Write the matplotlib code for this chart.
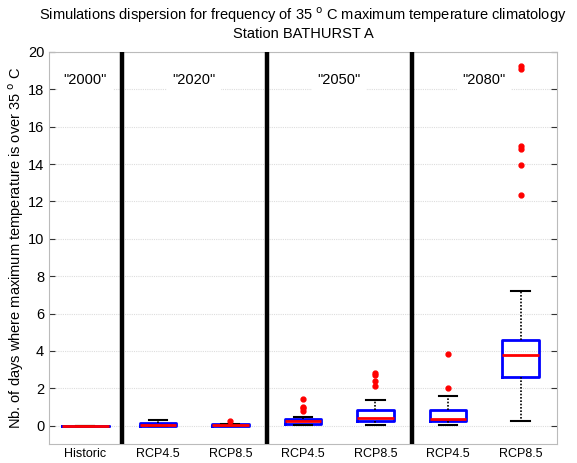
import numpy as np
import matplotlib.pyplot as plt

plt.rcParams['font.family'] = ['Liberation Sans', 'DejaVu Sans']

# scenario labels and box statistics (days per year above 35 C)
labels = ['Historic', 'RCP4.5', 'RCP8.5', 'RCP4.5', 'RCP8.5', 'RCP4.5', 'RCP8.5']
q1 = [0.0, 0.0, 0.0, 0.10, 0.27, 0.28, 2.60]
med = [0.0, 0.03, 0.05, 0.23, 0.41, 0.37, 3.80]
q3 = [0.0, 0.15, 0.10, 0.37, 0.86, 0.82, 4.57]
whislo = [0.0, 0.0, 0.0, 0.02, 0.05, 0.05, 0.23]
whishi = [0.0, 0.30, 0.10, 0.48, 1.36, 1.57, 7.22]
fliers = [
    [],
    [],
    [0.27],
    [1.45, 1.0, 0.95, 0.8],
    [2.84, 2.70, 2.38, 2.13],
    [3.86, 2.04],
    [19.27, 19.09, 14.94, 14.82, 13.94, 12.35],
]

periods = ['"2000"', '"2020"', '"2050"', '"2080"']
period_x = [1, 2.5, 4.5, 6.5]
separators = [1.5, 3.5, 5.5]

stats = []
for i in range(len(labels)):
    stats.append(dict(q1=q1[i], med=med[i], q3=q3[i], whislo=whislo[i],
                      whishi=whishi[i], fliers=fliers[i], label=labels[i]))

fig = plt.figure(figsize=(5.77, 4.63), dpi=100)
ax = fig.add_axes([0.085, 0.04, 0.88, 0.848])

pos = np.arange(1, len(labels) + 1)
widths = [0.65] + [0.5] * (len(labels) - 1)
ax.bxp(stats, positions=pos, widths=widths, capwidths=0.25,
       boxprops=dict(color='blue', linewidth=2),
       medianprops=dict(color='red', linewidth=2),
       whiskerprops=dict(color='black', linestyle=(0, (1, 1)), linewidth=1.2),
       capprops=dict(color='black', linewidth=1.5),
       flierprops=dict(marker='o', markersize=3.5, markerfacecolor='red',
                       markeredgecolor='red'))

for xs in separators:
    ax.axvline(xs, color='black', linewidth=3.2, zorder=3)

for x, t in zip(period_x, periods):
    ax.text(x, 18.5, t, ha='center', va='center', fontsize=10.5,
            bbox=dict(facecolor='white', edgecolor='none', pad=4), zorder=4)

ax.set_xlim(0.5, 7.5)
ax.set_ylim(-1, 20)
ax.set_yticks(np.arange(0, 21, 2))
ax.set_xticks(pos)
ax.set_xticklabels(labels, fontsize=9)
ax.tick_params(axis='x', length=0, pad=2.5)
ax.tick_params(axis='y', direction='in', right=True, length=4, width=0.8,
               color='#333333', labelsize=10.5)
ax.yaxis.grid(True, color='#dddddd', linestyle=(0, (1, 1)), linewidth=0.8)
ax.set_axisbelow(True)
for s in ax.spines.values():
    s.set_color('#bbbbbb')
    s.set_linewidth(0.8)

ax.set_ylabel(r'Nb. of days where maximum temperature is over 35 $^{\rm o}$ C',
              fontsize=10.5, labelpad=1)
ax.set_title('Simulations dispersion for frequency of 35 $^{\\rm o}$ C maximum temperature climatology\n'
             'Station BATHURST A', fontsize=10.5, pad=10)

fig.savefig('out.png', dpi=100)
